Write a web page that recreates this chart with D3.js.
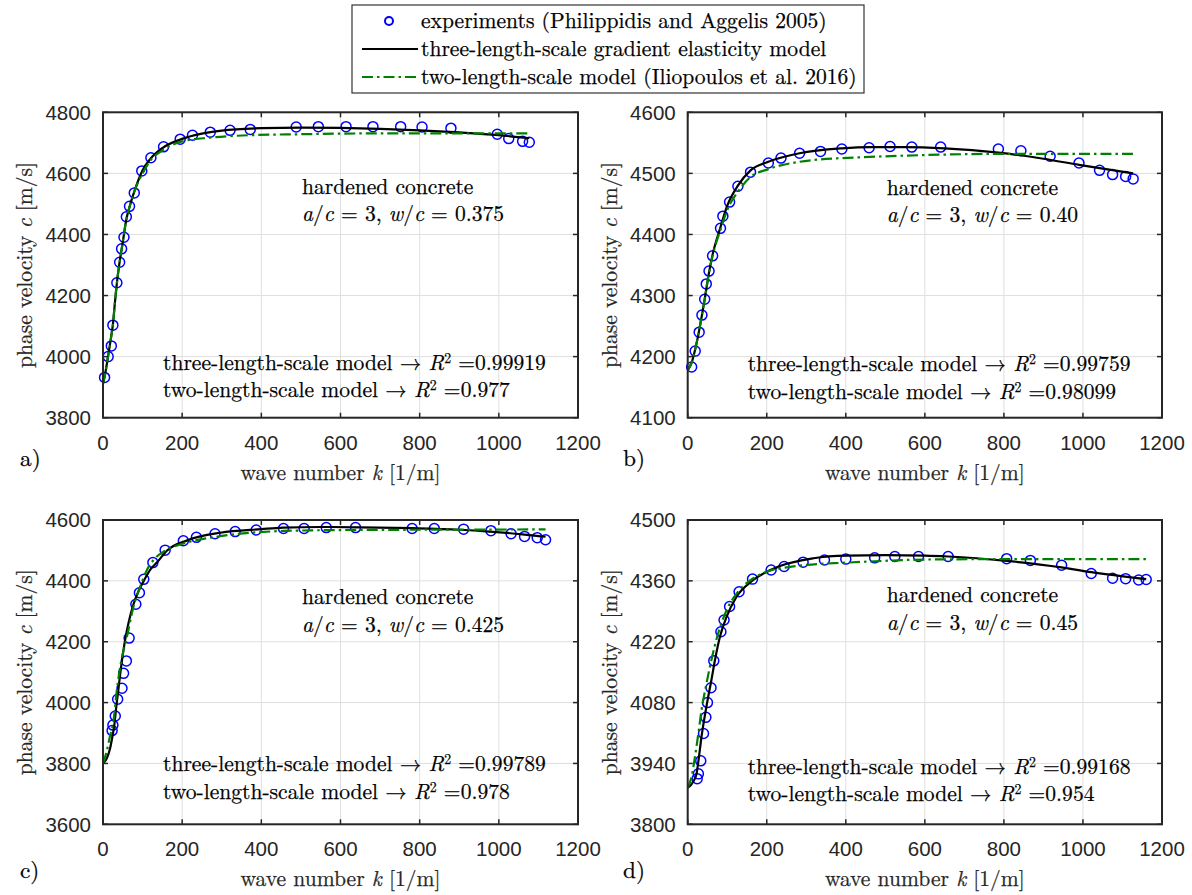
<!DOCTYPE html>
<html><head><meta charset="utf-8">
<script src="https://cdn.jsdelivr.net/npm/d3@7"></script>
<style>body{margin:0;background:#fff} svg{display:block}</style>
</head><body>
<svg id="chart" width="1192" height="895"></svg>
<script>
// ---------------- data ----------------
const xTicks = [0, 200, 400, 600, 800, 1000, 1200];
const yTicksA = [3800, 4000, 4200, 4400, 4600, 4800];
const yTicksB = [4100, 4200, 4300, 4400, 4500, 4600];
const yTicksC = [3600, 3800, 4000, 4200, 4400, 4600];
const yTicksD = [3800, 3940, 4080, 4220, 4360, 4500];

const legendLabels = [
  "experiments (Philippidis and Aggelis 2005)",
  "three-length-scale gradient elasticity model",
  "two-length-scale model (Iliopoulos et al. 2016)"
];
const panelLetters = ["a)", "b)", "c)", "d)"];
const wcValues = ["0.375", "0.40", "0.425", "0.45"];
const r2Three = ["0.99919", "0.99759", "0.99789", "0.99168"];
const r2Two = ["0.977", "0.98099", "0.978", "0.954"];

// experiments [k, c]
const expA = [[4,3932],[13,4000],[21,4035],[25,4103],[35,4242],[42,4309],[47,4353],[53,4391],[59,4458],[67,4492],[79,4536],[98,4608],[121,4651],[153,4687],[195,4712],[226,4725],[271,4735],[321,4741],[372,4744],[488,4752],[544,4753],[614,4753],[682,4753],[752,4753],[806,4752],[879,4748],[996,4728],[1025,4714],[1060,4705],[1077,4702]];
const threeA = [[0,3912],[5,3940],[12,3995],[20,4060],[25,4105],[30,4175],[35,4240],[42,4310],[50,4375],[59,4450],[67,4490],[79,4540],[90,4580],[100,4610],[120,4648],[150,4683],[200,4713],[250,4730],[300,4740],[400,4748],[500,4750],[600,4749],[700,4746],[800,4741],[900,4734],[1000,4725],[1077,4715]];
const twoA = [[0,3912],[5,3940],[12,3995],[20,4060],[25,4105],[30,4175],[35,4240],[42,4310],[50,4375],[59,4450],[67,4490],[79,4540],[90,4575],[100,4600],[120,4643],[150,4675],[200,4705],[270,4717],[370,4725],[490,4728],[700,4731],[1077,4731]];

const expB = [[10,4183],[19,4209],[29,4240],[36,4268],[43,4294],[47,4319],[54,4340],[63,4365],[83,4410],[89,4430],[106,4453],[127,4479],[159,4502],[204,4517],[236,4525],[283,4533],[336,4536],[390,4540],[459,4542],[512,4544],[567,4543],[640,4543],[786,4540],[843,4537],[917,4528],[990,4517],[1042,4505],[1075,4498],[1108,4495],[1127,4491]];
const threeB = [[0,4178],[10,4190],[19,4212],[29,4243],[36,4268],[43,4294],[54,4338],[63,4367],[83,4412],[100,4447],[127,4480],[159,4505],[204,4519],[283,4533],[390,4541],[460,4543],[550,4543],[650,4541],[786,4534],[900,4524],[990,4514],[1127,4500]];
const twoB = [[0,4178],[10,4190],[19,4212],[29,4243],[36,4268],[43,4294],[54,4338],[63,4365],[83,4408],[100,4440],[127,4470],[159,4494],[204,4507],[283,4519],[336,4523],[390,4525],[460,4527],[600,4530],[800,4532],[1127,4532]];

const expC = [[23,3908],[25,3926],[31,3956],[37,4011],[48,4047],[52,4096],[59,4137],[66,4212],[83,4323],[92,4361],[103,4405],[126,4460],[157,4501],[203,4532],[236,4543],[283,4555],[334,4562],[387,4567],[456,4572],[508,4572],[564,4575],[638,4575],[781,4572],[837,4572],[911,4570],[980,4565],[1031,4555],[1065,4546],[1097,4542],[1118,4535]];
const threeC = [[0,3800],[10,3818],[18,3850],[24,3890],[29,3930],[33,3980],[38.6,4041],[45,4110],[56,4207],[65,4265],[77,4323],[90,4367],[103,4400],[120,4438],[136,4460],[162,4500],[213,4533],[296,4558],[400,4570],[455,4575],[550,4577],[650,4576],[781,4573],[900,4568],[976,4562],[1060,4553],[1118,4545]];
const twoC = [[0,3800],[8,3833],[17,3885],[26.8,3943],[35,4041],[45,4129],[60.6,4217],[77,4315],[94,4381],[111,4436],[128,4469],[153,4496],[178,4512],[203,4523],[287,4545],[456,4564],[600,4567],[800,4568],[1118,4569]];

const expD = [[24,3905],[27,3916],[33,3946],[40,4009],[46,4046],[50,4080],[59,4114],[66,4176],[84,4243],[92,4270],[106,4301],[130,4335],[164,4364],[211,4385],[244,4393],[292,4403],[346,4408],[400,4410],[473,4413],[524,4416],[584,4416],[659,4416],[807,4411],[867,4407],[946,4396],[1021,4377],[1075,4366],[1108,4365],[1141,4362],[1160,4363]];
const threeD = [[0,3884],[14,3898],[22.5,3917],[28.6,3956],[35,4002],[43,4048],[52,4094],[60,4132],[69,4178],[81.7,4232],[98.7,4278],[124,4324],[166,4362],[233.5,4394],[318,4412],[402,4418],[500,4419],[600,4418],[659,4416],[807,4406],[946,4391],[1021,4380],[1160,4364]];
const twoD = [[0,3884],[10,3910],[18.5,3956],[27,4009],[35,4063],[46,4117],[60,4178],[77,4239],[98.7,4293],[124,4331],[166,4366],[200,4381],[275,4394],[402,4402],[473,4405],[600,4409],[800,4410],[1160,4410]];

// ---------------- layout ----------------
const SERIF = "'Latin Modern Roman', 'Liberation Serif', 'Times New Roman', monospace";
const SANS = "'Liberation Sans', Arial, Helvetica, sans-serif";
const AX = "#262626";

const svg = d3.select("#chart");
svg.append("rect").attr("width",1192).attr("height",895).attr("fill","#fff");

// fit serif font size so the longest legend entry spans its measured width
const probe = svg.append("text").style("font-family", SERIF).style("font-size", "100px")
  .text(legendLabels[2]);
const probeW = probe.node().getComputedTextLength();
probe.remove();
const FS = Math.min(25, Math.max(17, 100 * 436 / probeW));

const panels = [
  {exp: expA, three: threeA, two: twoA, yTicks: yTicksA, x0:103, x1:578, y0:112.3, y1:417.7, letterX:20, letterY:466, t1:[82,109], t2:[258,285]},
  {exp: expB, three: threeB, two: twoB, yTicks: yTicksB, x0:687.7, x1:1162, y0:112.3, y1:417.7, letterX:623, letterY:466, t1:[83,110], t2:[259,287]},
  {exp: expC, three: threeC, two: twoC, yTicks: yTicksC, x0:103, x1:578, y0:520, y1:824.3, letterX:20, letterY:878, t1:[84,112], t2:[251,279]},
  {exp: expD, three: threeD, two: twoD, yTicks: yTicksD, x0:687.7, x1:1162, y0:520, y1:824.3, letterX:623, letterY:878, t1:[82,110], t2:[254,281]}
];

function richText(g, x, y, parts, size, anchor, color) {
  const c = color || "#000";
  const t = g.append("text").attr("x", x).attr("y", y)
    .style("font-family", SERIF).style("font-size", size + "px").attr("fill", c)
    .attr("stroke", c).attr("stroke-width", 0.25)
    .attr("text-anchor", anchor || "start");
  parts.forEach(p => {
    const s = t.append("tspan").text(p.t);
    if (p.i) s.style("font-style", "italic");
    if (p.sup) s.style("font-size", (size * 0.64) + "px").attr("dy", -size * 0.34);
    if (p.down) s.attr("dy", size * 0.34);
  });
  return t;
}

panels.forEach((p, idx) => {
  const x = d3.scaleLinear().domain([0, 1200]).range([p.x0, p.x1]);
  const y = d3.scaleLinear().domain([p.yTicks[0], p.yTicks[p.yTicks.length-1]]).range([p.y1, p.y0]);
  const g = svg.append("g");

  // grid
  g.selectAll(".gx").data(xTicks).join("line")
    .attr("x1", d => x(d)).attr("x2", d => x(d)).attr("y1", p.y0).attr("y2", p.y1)
    .attr("stroke", "#dfdfdf").attr("stroke-width", 1);
  g.selectAll(".gy").data(p.yTicks).join("line")
    .attr("y1", d => y(d)).attr("y2", d => y(d)).attr("x1", p.x0).attr("x2", p.x1)
    .attr("stroke", "#dfdfdf").attr("stroke-width", 1);

  // experiments
  g.append("g").selectAll("circle").data(p.exp).join("circle")
    .attr("cx", d => x(d[0])).attr("cy", d => y(d[1])).attr("r", 5)
    .attr("fill", "none").attr("stroke", "#0000ff").attr("stroke-width", 1.5);

  const line = d3.line().x(d => x(d[0])).y(d => y(d[1])).curve(d3.curveMonotoneX);
  g.append("path").attr("d", line(p.three)).attr("fill", "none")
    .attr("stroke", "#000").attr("stroke-width", 2.2);
  g.append("path").attr("d", line(p.two)).attr("fill", "none")
    .attr("stroke", "#008000").attr("stroke-width", 2.2).attr("stroke-dasharray", "11,4,2.5,4");

  // ticks (inward, all sides)
  const tl = 5;
  xTicks.forEach(d => {
    g.append("line").attr("x1", x(d)).attr("x2", x(d)).attr("y1", p.y1).attr("y2", p.y1 - tl).attr("stroke", AX).attr("stroke-width", 1.5);
    g.append("line").attr("x1", x(d)).attr("x2", x(d)).attr("y1", p.y0).attr("y2", p.y0 + tl).attr("stroke", AX).attr("stroke-width", 1.5);
  });
  p.yTicks.forEach(d => {
    g.append("line").attr("y1", y(d)).attr("y2", y(d)).attr("x1", p.x0).attr("x2", p.x0 + tl).attr("stroke", AX).attr("stroke-width", 1.5);
    g.append("line").attr("y1", y(d)).attr("y2", y(d)).attr("x1", p.x1).attr("x2", p.x1 - tl).attr("stroke", AX).attr("stroke-width", 1.5);
  });
  // box
  g.append("rect").attr("x", p.x0).attr("y", p.y0).attr("width", p.x1 - p.x0).attr("height", p.y1 - p.y0)
    .attr("fill", "none").attr("stroke", AX).attr("stroke-width", 2);

  // tick labels
  g.selectAll(".xl").data(xTicks).join("text")
    .attr("x", d => x(d)).attr("y", p.y1 + 32).attr("text-anchor", "middle")
    .style("font-family", SANS).style("font-size", "20.5px").attr("fill", AX).text(d => d);
  g.selectAll(".yl").data(p.yTicks).join("text")
    .attr("x", p.x0 - 12).attr("y", d => y(d) + 7.3).attr("text-anchor", "end")
    .style("font-family", SANS).style("font-size", "20.5px").attr("fill", AX).text(d => d);

  // axis labels
  richText(g, (p.x0 + p.x1) / 2, p.y1 + 62,
    [{t:"wave number "},{t:"k",i:true},{t:" [1/m]"}], FS, "middle", AX);
  richText(g, 0, 0,
    [{t:"phase velocity "},{t:"c",i:true},{t:" [m/s]"}], FS, "middle", AX)
    .attr("transform", `translate(${p.x0 - 71},${(p.y0 + p.y1) / 2}) rotate(-90)`);

  // panel letter
  richText(g, p.letterX, p.letterY, [{t: panelLetters[idx]}], FS * 1.08);

  // annotations
  const ax = p.x0 + 199;
  richText(g, ax, p.y0 + p.t1[0], [{t:"hardened concrete"}], FS);
  richText(g, ax, p.y0 + p.t1[1], [
    {t:"a",i:true},{t:"/"},{t:"c",i:true},{t:" = 3, "},{t:"w",i:true},{t:"/"},{t:"c",i:true},{t:" = " + wcValues[idx]}
  ], FS);
  const rx = p.x0 + 60;
  richText(g, rx, p.y0 + p.t2[0], [
    {t:"three-length-scale model \u2192 "},{t:"R",i:true},{t:"2",sup:true},{t:" =" + r2Three[idx], down:true}
  ], FS);
  richText(g, rx, p.y0 + p.t2[1], [
    {t:"two-length-scale model \u2192 "},{t:"R",i:true},{t:"2",sup:true},{t:" =" + r2Two[idx], down:true}
  ], FS);
});

// ---------------- legend ----------------
const lg = svg.append("g");
lg.append("rect").attr("x", 352).attr("y", 5).attr("width", 512).attr("height", 88)
  .attr("fill", "#fff").attr("stroke", "#333").attr("stroke-width", 1.2);
const rowY = [21, 49, 77];
lg.append("circle").attr("cx", 389).attr("cy", rowY[0]).attr("r", 4)
  .attr("fill", "none").attr("stroke", "#0000ff").attr("stroke-width", 2);
lg.append("line").attr("x1", 362).attr("x2", 418).attr("y1", rowY[1]).attr("y2", rowY[1])
  .attr("stroke", "#000").attr("stroke-width", 2.2);
lg.append("line").attr("x1", 362).attr("x2", 418).attr("y1", rowY[2]).attr("y2", rowY[2])
  .attr("stroke", "#008000").attr("stroke-width", 2.2).attr("stroke-dasharray", "11,4,2.5,4");
legendLabels.forEach((s, i) => {
  richText(lg, 421, rowY[i] + 7, [{t:s}], FS);
});
</script>
</body></html>
